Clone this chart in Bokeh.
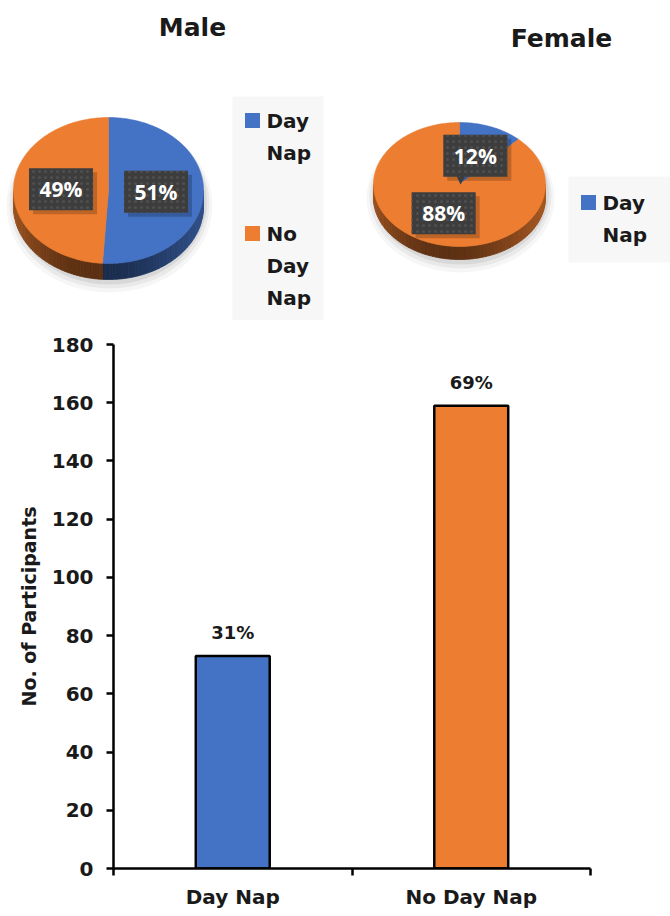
import numpy as np
from bokeh.plotting import figure
from bokeh.models import Range1d, LinearAxis, FixedTicker
from bokeh.core.properties import value
from bokeh.embed import file_html
from bokeh.resources import INLINE

# ---------------- data ----------------
pie_categories = ["Day Nap", "No Day Nap"]
male_pct = [51, 49]
female_pct = [12, 88]
pie_colors = ["#4472C4", "#ED7D31"]

bar_categories = ["Day Nap", "No Day Nap"]
bar_counts = [73, 159]
bar_labels = ["31%", "69%"]
y_ticks = [0, 20, 40, 60, 80, 100, 120, 140, 160, 180]

FONT = "DejaVu Sans"
LBL_FONT = "Open Sans"
INK = "#1a1a1a"


def shade(hex_color, f):
    h = hex_color.lstrip("#")
    r, g, b = (int(h[i:i + 2], 16) for i in (0, 2, 4))
    return "#%02x%02x%02x" % (int(r * f), int(g * f), int(b * f))


def side_factor(theta):
    return 0.72 - 0.33 * np.exp(-((theta - 190.0) / 55.0) ** 2)


def draw_pie(p, cx, cy, rx, ry, depth, pcts, colors):
    total = float(sum(pcts))
    for dy, kw, kh, a in [(7, 16, 12, 0.035), (5, 10, 8, 0.05), (3, 5, 4, 0.07)]:
        p.ellipse(x=cx + 1, y=cy + depth / 2 + dy, width=2 * rx + kw,
                  height=2 * ry + depth + kh, fill_color="black",
                  fill_alpha=a, line_color=None)
    start = 0.0
    label_pos = []
    for pct, col in zip(pcts, colors):
        a0 = start
        a1 = start + 360.0 * pct / total
        s0, s1 = max(a0, 90.0), min(a1, 270.0)
        if s1 > s0:
            n = int(np.ceil((s1 - s0) / 2.0))
            edges = np.linspace(s0, s1, n + 1)
            xs, ys, cs = [], [], []
            for e0, e1 in zip(edges[:-1], edges[1:]):
                th = np.radians(np.linspace(e0, e1, 3))
                tx = cx + rx * np.sin(th)
                ty = cy - ry * np.cos(th)
                xs.append(list(tx) + list(tx[::-1]))
                ys.append(list(ty) + list((ty + depth)[::-1]))
                cs.append(shade(col, side_factor((e0 + e1) / 2)))
            p.patches(xs, ys, fill_color=cs, line_color=cs, line_width=0.8)
        th = np.radians(np.linspace(a0, a1, max(int(a1 - a0), 2) + 1))
        px = [cx] + list(cx + rx * np.sin(th))
        py = [cy] + list(cy - ry * np.cos(th))
        p.patch(px, py, fill_color=col, line_color=col, line_width=0.6)
        mid = np.radians((a0 + a1) / 2)
        label_pos.append((cx + 0.5 * rx * np.sin(mid), cy - 0.5 * ry * np.cos(mid), "%d%%" % pct))
        start = a1
    return label_pos


def draw_label(p, x, y, txt, pointer=None):
    w, h = 64, 42
    p.rect(x=x + 4, y=y + 4, width=w, height=h, fill_color="black",
           fill_alpha=0.2, line_color=None)
    if pointer is not None:
        p.patch([pointer[0] - 5, pointer[0] + 4, pointer[0] - 1],
                [y + h / 2 - 1, y + h / 2 - 1, pointer[1]],
                fill_color="#3d3d3d", line_color=None)
    p.rect(x=x, y=y, width=w, height=h, fill_color="#3d3d3d", line_color=None,
           hatch_pattern="dot", hatch_color="#4f4f4f", hatch_scale=6, hatch_weight=1)
    p.text(x=[x], y=[y], text=[txt], text_align="center", text_baseline="middle",
           text_color="white", text_font=value(LBL_FONT), text_font_style="bold",
           text_font_size="21px")


def draw_legend(p, x0, y0, w, h, items, colors, lines_y):
    p.rect(x=x0 + w / 2, y=y0 + h / 2, width=w, height=h, fill_color="#f7f7f7",
           line_color=None)
    for lines, col, ly in zip(items, colors, lines_y):
        p.rect(x=x0 + 20, y=ly, width=15, height=15, fill_color=col, line_color=None)
        for j, t in enumerate(lines):
            p.text(x=[x0 + 34], y=[ly + 32 * j], text=[t], text_align="left",
                   text_baseline="middle", text_color=INK, text_font=value(FONT),
                   text_font_style="bold", text_font_size="20px")


# ---------------- pie panel ----------------
pie = figure(width=670, height=320, x_range=Range1d(0, 670), y_range=Range1d(320, 0),
             output_backend="svg", toolbar_location=None, min_border=0)
pie.axis.visible = False
pie.grid.visible = False
pie.outline_line_color = None

pie.text(x=[192], y=[27], text=["Male"], text_align="center", text_baseline="middle",
         text_color=INK, text_font=value(FONT), text_font_style="bold", text_font_size="25px")
pie.text(x=[561], y=[38], text=["Female"], text_align="center", text_baseline="middle",
         text_color=INK, text_font=value(FONT), text_font_style="bold", text_font_size="25px")

m_labels = draw_pie(pie, 108, 190, 95, 73, 16, male_pct, pie_colors)
f_labels = draw_pie(pie, 459, 184, 86, 62, 13, female_pct, pie_colors)

for (x, y, t) in m_labels:
    draw_label(pie, x, y, t)
draw_label(pie, f_labels[0][0], f_labels[0][1], f_labels[0][2], pointer=(461, 184))
draw_label(pie, f_labels[1][0], f_labels[1][1], f_labels[1][2])

draw_legend(pie, 232, 96, 91, 224, [["Day", "Nap"], ["No", "Day", "Nap"]],
            pie_colors, [120, 233])
draw_legend(pie, 568, 176, 102, 86, [["Day", "Nap"]], pie_colors[:1], [202])

# ---------------- bar panel ----------------
n_cat = len(bar_categories)
centers = [i + 0.5 for i in range(n_cat)]

bar = figure(width=670, height=596, x_range=Range1d(0, n_cat), y_range=Range1d(0, 180),
             output_backend="svg", toolbar_location=None,
             x_axis_location=None, y_axis_location=None,
             min_border_left=113, min_border_right=80, min_border_top=24, min_border_bottom=48)
bar.grid.visible = False
bar.outline_line_color = None

x_axis = LinearAxis(ticker=FixedTicker(ticks=centers, minor_ticks=list(range(n_cat + 1))),
                    major_label_overrides={c: s for c, s in zip(centers, bar_categories)},
                    major_tick_line_color=None, major_tick_out=0, major_tick_in=0,
                    minor_tick_out=7, minor_tick_in=0, minor_tick_line_width=2.5,
                    minor_tick_line_color="black",
                    axis_line_width=2.5, axis_line_color="black",
                    major_label_text_font=FONT, major_label_text_font_style="bold",
                    major_label_text_font_size="20px", major_label_text_color=INK,
                    major_label_standoff=9)
bar.add_layout(x_axis, "below")

y_axis = LinearAxis(ticker=FixedTicker(ticks=y_ticks), major_tick_out=7, major_tick_in=0,
                    minor_tick_line_color=None, axis_line_width=2.5, major_tick_line_width=2.5,
                    axis_line_color="black", major_tick_line_color="black",
                    major_label_text_font=FONT, major_label_text_font_style="bold",
                    major_label_text_font_size="20px", major_label_text_color=INK,
                    major_label_standoff=13,
                    axis_label="No. of Participants", axis_label_text_font=FONT,
                    axis_label_text_font_style="bold", axis_label_text_font_size="19px",
                    axis_label_text_color=INK, axis_label_standoff=9)
bar.add_layout(y_axis, "left")

bar.vbar(x=centers, top=bar_counts, width=0.31, fill_color=pie_colors,
         line_color="black", line_width=2.5)
bar.text(x=centers, y=bar_counts, text=bar_labels, text_align="center",
         text_baseline="bottom", y_offset=-13, text_color=INK, text_font=value(FONT),
         text_font_style="bold", text_font_size="18px")

open("out.html", "w").write(file_html([pie, bar], INLINE))
